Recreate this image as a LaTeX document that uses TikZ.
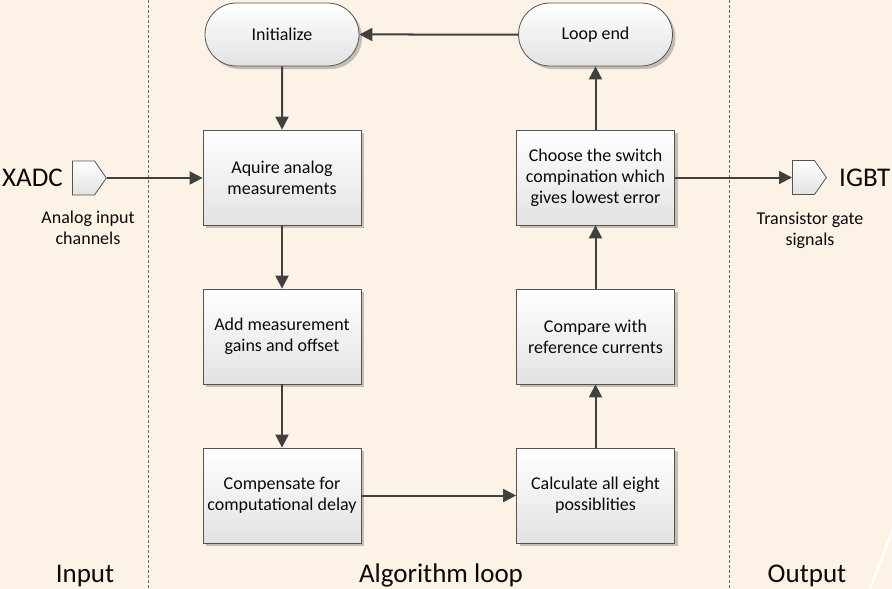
\documentclass[tikz,border=0pt]{standalone}
\usepackage{fontspec}
\setmainfont{Carlito}
\usetikzlibrary{arrows.meta,shapes.misc,shapes.symbols,shadows}
\definecolor{paper}{RGB}{253,242,230}
\definecolor{ink}{RGB}{64,64,64}
\definecolor{edge}{RGB}{84,84,84}
\definecolor{boxlow}{RGB}{226,226,226}
\definecolor{txt}{RGB}{10,10,10}
\begin{document}
\begin{tikzpicture}[x=1pt,y=-1pt,
  procbox/.style={draw=edge, line width=0.8pt, top color=white, bottom color=boxlow,
    minimum width=158pt, minimum height=95pt, inner sep=2pt, align=center,
    text=txt, font={\fontsize{18}{21}\selectfont},
    drop shadow={shadow xshift=3pt, shadow yshift=-3pt, opacity=0.22, fill=black}},
  terminal/.style={procbox, rounded rectangle, minimum height=63pt},
  port/.style={draw=edge, line width=0.8pt, top color=white, bottom color=boxlow,
    signal, signal to=east, signal from=nowhere, signal pointer angle=110,
    minimum width=34pt, minimum height=34pt, inner sep=0pt},
  biglabel/.style={text=txt, font={\fontsize{27}{32}\selectfont}, inner sep=0pt},
  note/.style={text=txt, align=center, font={\fontsize{18}{21}\selectfont}, inner sep=0pt},
  flow/.style={draw=ink, line width=2pt, -{Triangle[length=13pt,width=13pt]}},
  lane/.style={draw=ink!80, line width=0.8pt, dash pattern=on 3pt off 2pt}]

% page background
\fill[paper] (0,0) rectangle (892,589);
\useasboundingbox (0,0) rectangle (892,589);
\draw[white, line width=2.2pt] (869,592) -- (894,526);

% swimlane separators
\draw[lane] (148,0) -- (148,589);
\draw[lane] (729,0) -- (729,589);

% loop steps
\node[terminal] (init) at (282,34.5) {Initialize};
\node[terminal] (loopend) at (595.5,34.5) {Loop end};
\node[procbox] (acq) at (282,177.5) {Aquire analog\\measurements};
\node[procbox] (gain) at (282,336.5) {Add measurement\\gains and offset};
\node[procbox] (comp) at (282,495.5) {Compensate for\\computational delay};
\node[procbox] (calc) at (595.5,495.5) {Calculate all eight\\possiblities};
\node[procbox] (cmp) at (595.5,336.5) {Compare with\\reference currents};
\node[procbox] (choose) at (595.5,177.5) {Choose the switch\\compination which\\gives lowest error};

% input and output ports
\node[port, anchor=west] (xadc) at (72,178) {};
\node[biglabel, anchor=east] (xadclbl) at (63,178) {XADC};
\node[note] (xadcnote) at (88,228) {Analog input\\channels};
\node[port, anchor=west] (igbt) at (792,177.5) {};
\node[biglabel, anchor=west] (igbtlbl) at (839,177.5) {IGBT};
\node[note] (igbtnote) at (810,230) {Transistor gate\\signals};

% lane titles
\node[biglabel, anchor=base] (lanein) at (85,582) {Input};
\node[biglabel, anchor=base] (laneloop) at (441,582) {Algorithm loop};
\node[biglabel, anchor=base] (laneout) at (807,582) {Output};

% control flow
\draw[flow] (loopend) -- (init);
\draw[flow] (init) -- (acq);
\draw[flow] (xadc.east) -- (xadc.east -| acq.west);
\draw[flow] (acq) -- (gain);
\draw[flow] (gain) -- (comp);
\draw[flow] (comp) -- (calc);
\draw[flow] (calc) -- (cmp);
\draw[flow] (cmp) -- (choose);
\draw[flow] (choose) -- (loopend);
\draw[flow] (choose.east) -- (choose.east -| igbt.west);
\end{tikzpicture}
\end{document}
